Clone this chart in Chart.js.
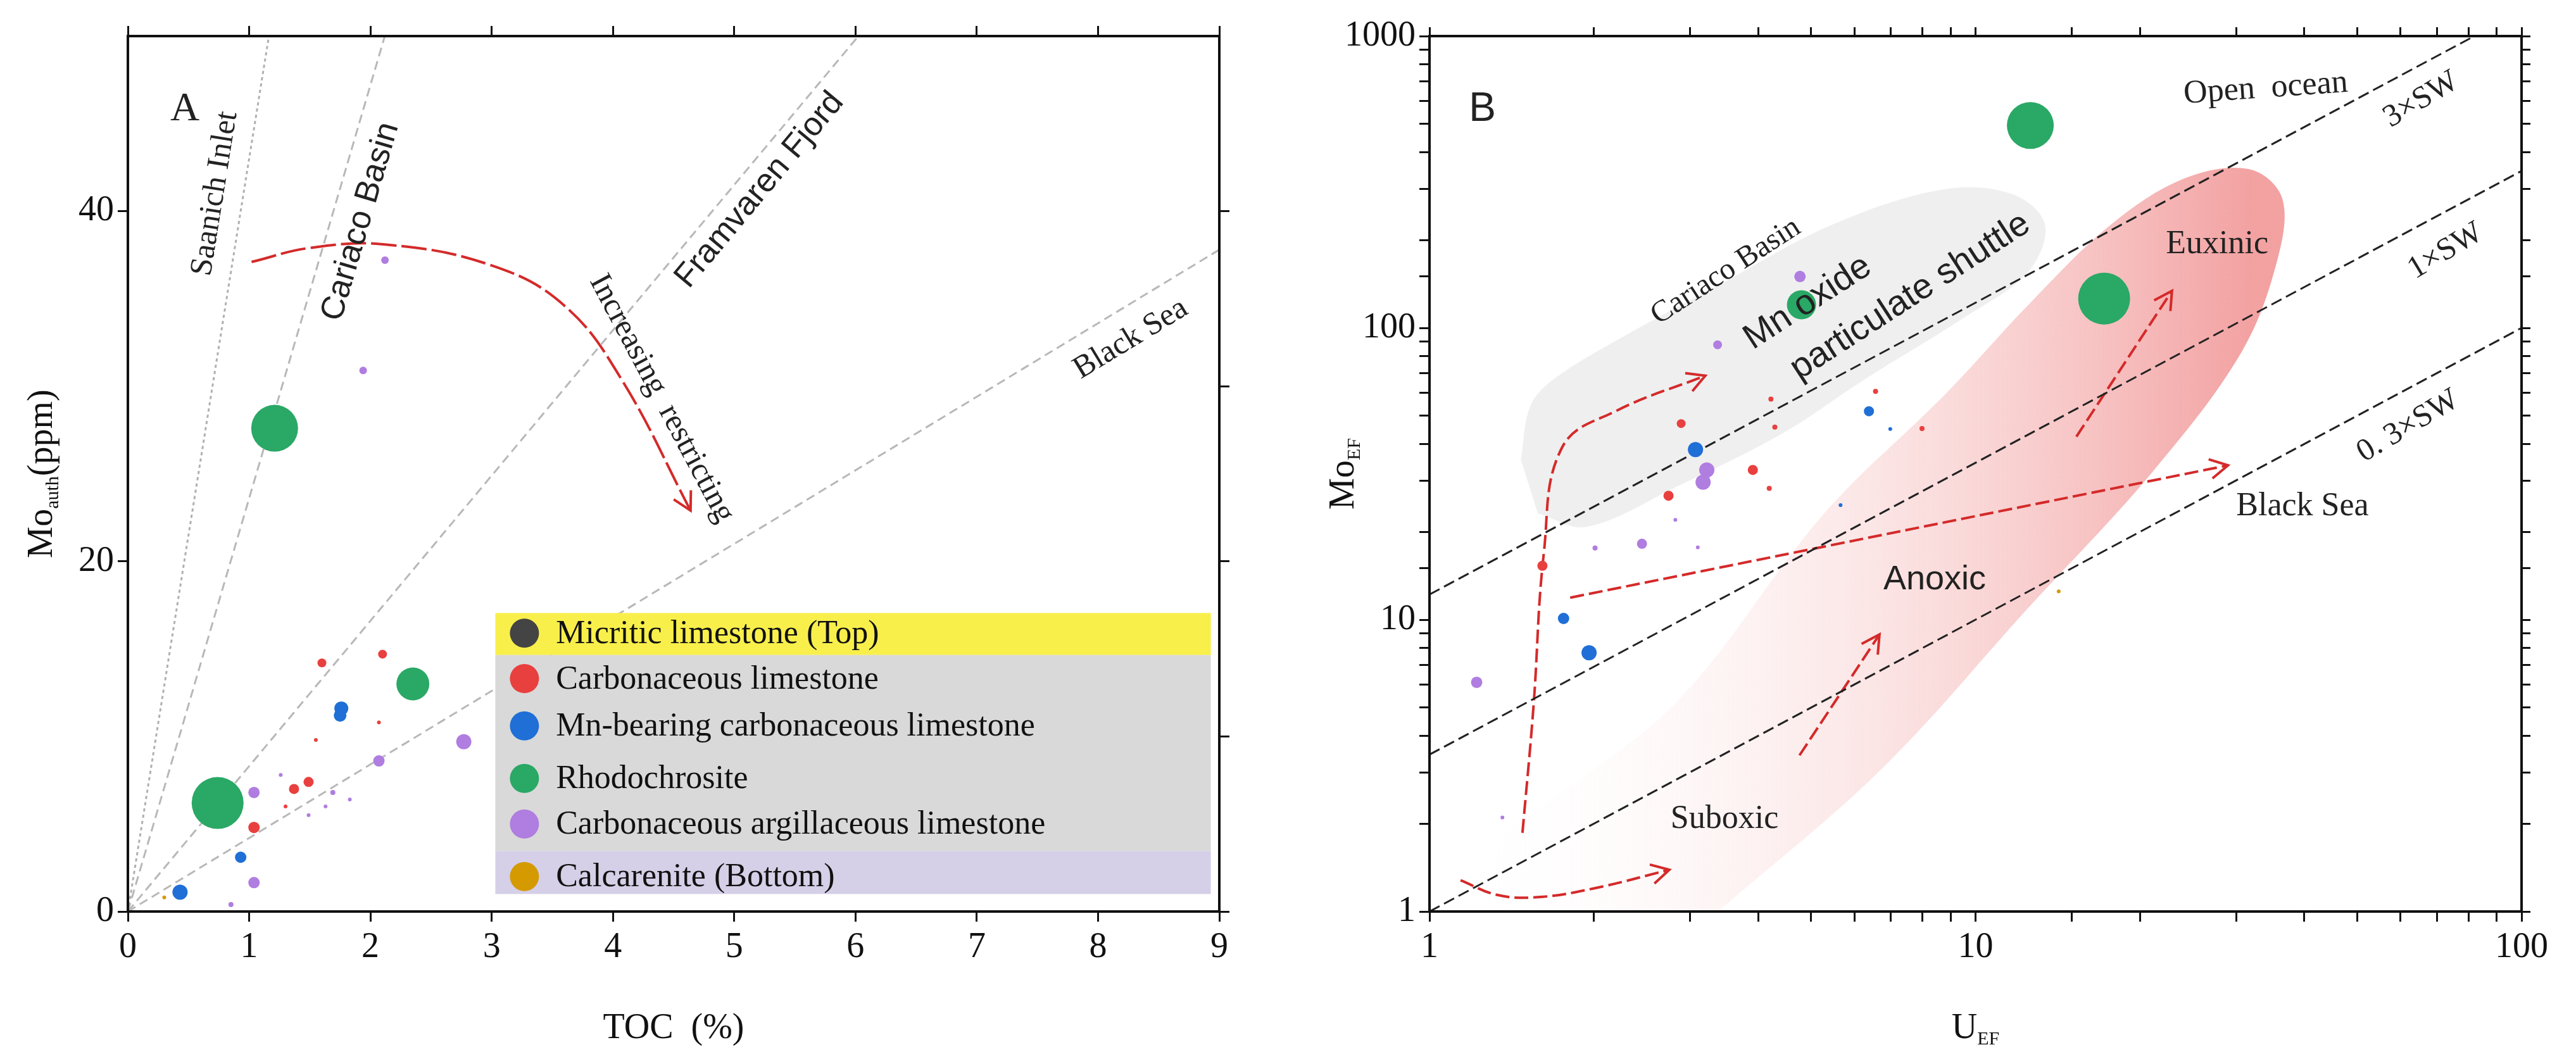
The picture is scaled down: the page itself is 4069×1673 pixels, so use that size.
<!DOCTYPE html>
<html><head><meta charset="utf-8">
<script src="https://cdn.jsdelivr.net/npm/chart.js@4.4.1/dist/chart.umd.min.js"></script>
<style>
 body{margin:0;background:#fff;width:4069px;height:1673px;overflow:hidden}
 canvas{position:absolute;top:0}
</style></head><body>
<canvas id="chart-a" width="2030" height="1673" style="left:0"></canvas>
<canvas id="chart-b" width="2035" height="1673" style="left:2034px"></canvas>
<script>
// ---------- Panel A data: TOC (%) vs Mo auth (ppm) ----------
const tocTicks = [0,1,2,3,4,5,6,7,8,9];
const moAuthTicks = [0,20,40];
const refNames = ['Saanich Inlet','Cariaco Basin','Framvaren Fjord','Black Sea'];
const refSlopes = [43, 23.6, 8.3, 4.2];

const rhodoToc = [1.21, 0.74, 2.35];
const rhodoMo  = [27.6, 6.2, 13.0];
const carbToc = [1.6, 2.1, 1.49, 1.37, 1.04, 2.07, 1.55, 1.3];
const carbMo  = [14.2, 14.7, 7.4, 7.0, 4.8, 10.8, 9.8, 6.0];
const mnToc = [1.75, 1.76, 0.93, 0.43];
const mnMo  = [11.2, 11.6, 3.1, 1.1];
const argToc = [2.12, 1.94, 2.77, 2.07, 1.04, 1.04, 0.85, 1.26, 1.69, 1.49, 1.63, 1.83];
const argMo  = [37.2, 30.9, 9.7, 8.6, 6.8, 1.65, 0.4, 7.8, 6.8, 5.5, 6.0, 6.4];
const calcToc = [0.3];
const calcMo  = [0.8];
const trendAx = [1.02, 1.5, 2.12, 3.0, 3.6, 4.07, 4.64];
const trendAy = [37.1, 37.9, 38.1, 36.9, 34.6, 30.4, 22.9];

// ---------- Panel B data: U EF vs Mo EF ----------
const swNames = ['0. 3×SW','1×SW','3×SW'];
const swRatios = [1, 3.45, 12.2];

const rhodoU  = [12.6, 17.2, 4.8];
const rhodoEF = [494, 126, 120];
const carbU  = [1.61, 2.74, 3.91, 4.19, 2.89, 4.22, 6.56, 4.29, 7.98];
const carbEF = [15.3, 26.6, 32.6, 28.2, 47, 57, 60.6, 45.7, 45.2];
const mnU  = [3.07, 6.38, 1.76, 1.96, 6.98, 5.66];
const mnEF = [38.3, 51.8, 10.1, 7.7, 45, 24.7];
const argU  = [4.77, 3.37, 3.22, 3.17, 2.45, 2.01, 2.82, 1.22, 1.36, 3.1];
const argEF = [150, 87.5, 32.6, 29.6, 18.2, 17.6, 22, 6.1, 2.1, 17.7];
const calcU  = [14.2];
const calcEF = [12.5];

const shuttleU  = [1.47,1.53,1.69,2.23,3.38,5.47,8.71,11.7,13.4,12.5,9.5,6.28,4.45,2.84,1.94,1.58];
const shuttleEF = [35.3,54,66.8,91.9,140,226,298,287,226,156,108,66.8,43.7,28.6,20.8,23.1];
const zoneU  = [1.05,1.12,1.58,2.84,5.28,8.87,12.5,17.7,24.1,31.7,36.4,35.8,30.7,21.0,12.5,6.73,3.38];
const zoneEF = [1,1.39,2.24,5.24,23.1,60.1,120,226,325,350,280,174,82.6,31.8,11.0,3.08,1];

const arrowsB = [
  {u:[1.48,1.55,1.62,1.75,2.2,3.2], ef:[1.86,5,17,39,52,68.6]},
  {u:[1.14,1.33,1.58,2.0,2.75], ef:[1.28,1.14,1.12,1.2,1.39]},
  {u:[1.81,29], ef:[11.9,33.8]},
  {u:[4.76,6.67], ef:[3.43,8.9]},
  {u:[15.3,22.9], ef:[42.4,134]}
];

// ---------- styles ----------
const C = {micr:'#444444', carb:'#e8403f', mn:'#1f6fd6', rhodo:'#2aa866', arg:'#b07de0', calc:'#d49a00'};
const serif = '"Liberation Serif", "DejaVu Serif", serif';
const sans = '"Liberation Sans", "DejaVu Sans", sans-serif';
const rhodoRA = [37, 41, 26], carbRA = [7,7,8,8,9,3,3,3], mnRA = [10,11,9,12], argRA = [6,6,12,9,9,9,4,3,4,3,3,3];
const rhodoRB = [37, 41, 23], carbRB = [8,8,8,4,7,4,4,4,4], mnRB = [12,8,9,12,3,3], argRB = [9,7,12,12,8,4,3,9,3,3];

const pts = (xs, ys) => xs.map((x,i) => ({x:x, y:ys[i]}));
const pointSet = (label, xs, ys, color, radii) => ({label, data:pts(xs,ys), backgroundColor:color, borderWidth:0,
  pointRadius:radii, pointHoverRadius:radii, order:1});
const lineSet = (data, color, dash, width, extra) => Object.assign({data, showLine:true, borderColor:color,
  borderDash:dash, borderWidth:width, pointRadius:0, fill:false, order:5}, extra||{});

// annotations per canvas (kept outside chart options)
const decorData = {
  'chart-a': {
    titles:{x:[{t:'TOC  (%)'}], y:[{t:'Mo'},{t:'auth',s:true},{t:'(ppm)'}]},
    texts:[
      {text:'A', x:0.47, y:45.8, font:'64px '+serif},
      {text:refNames[0], x:0.72, y:41, font:'50px '+serif, k:refSlopes[0]},
      {text:refNames[1], x:1.92, y:39.4, font:'52px '+sans, k:refSlopes[1]},
      {text:refNames[2], x:5.21, y:41.2, font:'52px '+sans, k:refSlopes[2]},
      {text:refNames[3], x:8.27, y:32.7, font:'50px '+serif, k:refSlopes[3]},
      {text:'Increasing  restricting', x:4.4, y:29.3, font:'50px '+serif, rot:62}
    ],
    legend:{x0:3.03, x1:8.93, mx:3.27, tx:3.53,
      bands:[{top:17.05, bottom:14.65, color:'#f8ef4b'}, {top:14.65, bottom:3.45, color:'#d9d9d9'}, {top:3.45, bottom:1.0, color:'#d5cfe7'}],
      items:[{y:15.9, text:'Micritic limestone (Top)', color:C.micr},
             {y:13.3, text:'Carbonaceous limestone', color:C.carb},
             {y:10.6, text:'Mn-bearing carbonaceous limestone', color:C.mn},
             {y:7.6, text:'Rhodochrosite', color:C.rhodo},
             {y:5.0, text:'Carbonaceous argillaceous limestone', color:C.arg},
             {y:2.0, text:'Calcarenite (Bottom)', color:C.calc}]}
  },
  'chart-b': {
    titles:{x:[{t:'U'},{t:'EF',s:true}], y:[{t:'Mo'},{t:'EF',s:true}]},
    texts:[
      {text:'B', x:1.25, y:558, font:'64px '+sans},
      {text:'Open  ocean', x:34, y:660, font:'52px '+serif, rot:-4},
      {text:swNames[2], x:65.5, y:605, font:'50px '+serif, rot:-31},
      {text:swNames[1], x:72.6, y:183, font:'50px '+serif, rot:-31},
      {text:swNames[0], x:62, y:46, font:'50px '+serif, rot:-31},
      {text:'Black Sea', x:39.7, y:24.4, font:'52px '+serif},
      {text:'Euxinic', x:27.7, y:193, font:'52px '+serif},
      {text:'Anoxic', x:8.42, y:13.7, font:'54px '+sans},
      {text:'Suboxic', x:3.47, y:2.07, font:'52px '+serif},
      {text:'Cariaco Basin', x:3.49, y:156, font:'48px '+serif, rot:-33},
      {text:'Mn oxide', x:4.93, y:122, font:'56px '+sans, rot:-33},
      {text:'particulate shuttle', x:7.6, y:128, font:'56px '+sans, rot:-33}
    ]
  }
};

// text, legend and arrowhead plugin
const decor = {
  id:'decor',
  afterDatasetsDraw(chart){
    const ctx = chart.ctx, xs = chart.scales.x, ys = chart.scales.y, d = decorData[chart.canvas.id];
    chart.data.datasets.forEach(ds => {
      if(!ds.arrow) return;
      const n = ds.data.length, a = ds.data[n-2], b = ds.data[n-1];
      const x0 = xs.getPixelForValue(a.x), y0 = ys.getPixelForValue(a.y);
      const x1 = xs.getPixelForValue(b.x), y1 = ys.getPixelForValue(b.y);
      const ang = Math.atan2(y1-y0, x1-x0), L = 32;
      ctx.save(); ctx.strokeStyle = ds.borderColor; ctx.lineWidth = 4; ctx.setLineDash([]);
      ctx.beginPath();
      ctx.moveTo(x1 - L*Math.cos(ang-0.5), y1 - L*Math.sin(ang-0.5));
      ctx.lineTo(x1, y1);
      ctx.lineTo(x1 - L*Math.cos(ang+0.5), y1 - L*Math.sin(ang+0.5));
      ctx.stroke(); ctx.restore();
    });
    const lg = d.legend;
    if(lg){
      lg.bands.forEach(b => {
        const l = xs.getPixelForValue(lg.x0), r = xs.getPixelForValue(lg.x1);
        const t = ys.getPixelForValue(b.top), bt = ys.getPixelForValue(b.bottom);
        ctx.fillStyle = b.color; ctx.fillRect(l, t, r-l, bt-t);
      });
      lg.items.forEach(it => {
        const mx = xs.getPixelForValue(lg.mx), my = ys.getPixelForValue(it.y);
        ctx.beginPath(); ctx.fillStyle = it.color; ctx.arc(mx, my, 23, 0, Math.PI*2); ctx.fill();
        ctx.font = '52px ' + serif; ctx.fillStyle = '#111'; ctx.textAlign = 'left'; ctx.textBaseline = 'middle';
        ctx.fillText(it.text, xs.getPixelForValue(lg.tx), my + 2);
      });
    }
    d.texts.forEach(t => {
      const px = xs.getPixelForValue(t.x), py = ys.getPixelForValue(t.y);
      let rot = t.rot || 0;
      if(t.k !== undefined){
        const ax = xs.getPixelForValue(0), ay = ys.getPixelForValue(0);
        const bx = xs.getPixelForValue(1), by = ys.getPixelForValue(t.k);
        rot = Math.atan2(by-ay, bx-ax)*180/Math.PI;
      }
      ctx.save(); ctx.translate(px, py); ctx.rotate(rot*Math.PI/180);
      ctx.font = t.font; ctx.fillStyle = '#222'; ctx.textAlign = 'center'; ctx.textBaseline = 'middle';
      ctx.fillText(t.text, 0, 0); ctx.restore();
    });
  },
  afterDraw(chart){
    const ctx = chart.ctx, ca = chart.chartArea, tt = decorData[chart.canvas.id].titles;
    ctx.save(); ctx.strokeStyle = '#111'; ctx.lineWidth = 4; ctx.setLineDash([]);
    ctx.strokeRect(ca.left, ca.top, ca.right-ca.left, ca.bottom-ca.top); ctx.restore();
    const sub = (parts, x, y, rot) => {
      ctx.save(); ctx.translate(x, y); ctx.rotate(rot); ctx.fillStyle = '#111'; ctx.textBaseline = 'alphabetic';
      let w = 0; parts.forEach(p => { ctx.font = (p.s ? '30px ' : '56px ') + serif; w += ctx.measureText(p.t).width; });
      let cx = -w/2;
      parts.forEach(p => { ctx.font = (p.s ? '30px ' : '56px ') + serif; ctx.textAlign = 'left';
        ctx.fillText(p.t, cx, p.s ? 10 : 0); cx += ctx.measureText(p.t).width; });
      ctx.restore();
    };
    sub(tt.x, (ca.left+ca.right)/2, ca.bottom + 200, 0);
    sub(tt.y, ca.left - 120, (ca.top+ca.bottom)/2, -Math.PI/2);
  }
};

const fixAxis = (w, h) => (s) => { if(w !== undefined) s.width = w; if(h !== undefined) s.height = h; };
const tickFont = {family:serif, size:56};

// ---------- Chart A ----------
const refLines = refSlopes.map((s,i) => lineSet(
  [{x:0,y:0}, {x:Math.min(9, 50/s), y:Math.min(50, 9*s)}], i === 0 ? '#b0b0b0' : '#b8b8b8', i === 0 ? [5,5] : [14,8], 3));

new Chart(document.getElementById('chart-a'), {
  type:'scatter',
  data:{datasets:[
    ...refLines,
    lineSet(pts(trendAx, trendAy), '#d42a2a', [40,8], 4, {tension:0.4, arrow:true}),
    pointSet('Rhodochrosite', rhodoToc, rhodoMo, C.rhodo, rhodoRA),
    pointSet('Carbonaceous limestone', carbToc, carbMo, C.carb, carbRA),
    pointSet('Mn-bearing carbonaceous limestone', mnToc, mnMo, C.mn, mnRA),
    pointSet('Carbonaceous argillaceous limestone', argToc, argMo, C.arg, argRA),
    pointSet('Calcarenite (Bottom)', calcToc, calcMo, C.calc, [3])
  ]},
  options:{
    responsive:false, devicePixelRatio:1, animation:false,
    layout:{padding:0},
    plugins:{legend:{display:false}, tooltip:{enabled:false}},
    scales:{
      x:{type:'linear', min:0, max:9, afterFit:fixAxis(undefined,233),
        afterBuildTicks:s=>{s.ticks = tocTicks.map(v=>({value:v}));},
        grid:{drawOnChartArea:false, color:'#111', tickLength:16, lineWidth:3},
        border:{display:false}, ticks:{font:tickFont, color:'#111', padding:8}},
      y:{type:'linear', min:0, max:50, afterFit:fixAxis(202),
        afterBuildTicks:s=>{s.ticks = moAuthTicks.map(v=>({value:v}));},
        grid:{drawOnChartArea:false, color:'#111', tickLength:16, lineWidth:3},
        border:{display:false}, ticks:{font:tickFont, color:'#111', padding:6}},
      x2:{type:'linear', position:'top', min:0, max:9, afterFit:fixAxis(undefined,57),
        afterBuildTicks:s=>{s.ticks = tocTicks.map(v=>({value:v}));},
        grid:{drawOnChartArea:false, color:'#111', tickLength:16, lineWidth:3}, border:{display:false},
        ticks:{callback:()=>''}},
      y2:{type:'linear', position:'right', min:0, max:50, afterFit:fixAxis(104),
        afterBuildTicks:s=>{s.ticks = [0,10,20,30,40].map(v=>({value:v}));},
        grid:{drawOnChartArea:false, color:'#111', tickLength:16, lineWidth:3}, border:{display:false},
        ticks:{callback:()=>''}}
    }
  },
  plugins:[decor]
});

// ---------- Chart B ----------
const swLines = swRatios.map(r => lineSet([{x:1,y:r}, {x:100,y:100*r}], '#222', [18,8], 3));
const arrowSets = arrowsB.map(a => lineSet(pts(a.u, a.ef), '#d42a2a', [22,8], 4, {tension:0.4, arrow:true}));
const logLabel = v => ([1,10,100,1000].includes(v) ? String(v) : '');

new Chart(document.getElementById('chart-b'), {
  type:'scatter',
  data:{datasets:[
    lineSet(pts(shuttleU, shuttleEF), 'rgba(0,0,0,0)', [], 0, {fill:'shape', tension:0.35,
      backgroundColor:'rgba(236,236,236,0.85)', order:10}),
    lineSet(pts(zoneU, zoneEF), 'rgba(0,0,0,0)', [], 0, {fill:'shape', tension:0.35, order:9,
      backgroundColor:(c) => {
        const ch = c.chart, ca = ch.chartArea; if(!ca) return 'rgba(240,150,150,0.5)';
        const xs = ch.scales.x;
        const g = ch.ctx.createLinearGradient(xs.getPixelForValue(1.1), 0, xs.getPixelForValue(32), 0);
        g.addColorStop(0, 'rgba(255,255,255,0)'); g.addColorStop(1, 'rgba(238,125,125,0.72)');
        return g;
      }}),
    ...swLines,
    ...arrowSets,
    pointSet('Rhodochrosite', rhodoU, rhodoEF, C.rhodo, rhodoRB),
    pointSet('Carbonaceous limestone', carbU, carbEF, C.carb, carbRB),
    pointSet('Mn-bearing carbonaceous limestone', mnU, mnEF, C.mn, mnRB),
    pointSet('Carbonaceous argillaceous limestone', argU, argEF, C.arg, argRB),
    pointSet('Calcarenite (Bottom)', calcU, calcEF, C.calc, [3])
  ]},
  options:{
    responsive:false, devicePixelRatio:1, animation:false,
    layout:{padding:0},
    plugins:{legend:{display:false}, tooltip:{enabled:false}},
    scales:{
      x:{type:'logarithmic', min:1, max:100, afterFit:fixAxis(undefined,233),
        grid:{drawOnChartArea:false, color:'#111', tickLength:16, lineWidth:3}, border:{display:false},
        ticks:{font:tickFont, color:'#111', padding:8, autoSkip:false, maxRotation:0, callback:logLabel}},
      y:{type:'logarithmic', min:1, max:1000, afterFit:fixAxis(224),
        grid:{drawOnChartArea:false, color:'#111', tickLength:16, lineWidth:3}, border:{display:false},
        ticks:{font:tickFont, color:'#111', padding:6, autoSkip:false, callback:logLabel}},
      x2:{type:'logarithmic', position:'top', min:1, max:100, afterFit:fixAxis(undefined,57),
        grid:{drawOnChartArea:false, color:'#111', tickLength:14, lineWidth:3}, border:{display:false},
        ticks:{autoSkip:false, callback:()=>''}},
      y2:{type:'logarithmic', position:'right', min:1, max:1000, afterFit:fixAxis(86),
        grid:{drawOnChartArea:false, color:'#111', tickLength:14, lineWidth:3}, border:{display:false},
        ticks:{autoSkip:false, callback:()=>''}}
    }
  },
  plugins:[decor]
});
</script>
</body></html>
